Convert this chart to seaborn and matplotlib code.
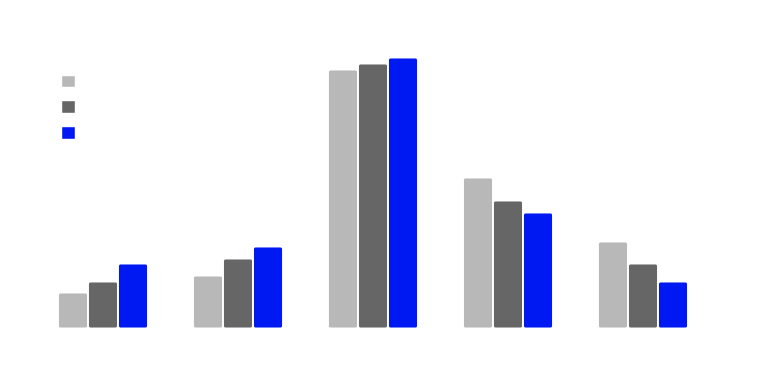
import matplotlib
matplotlib.use("Agg")
import matplotlib.pyplot as plt
from matplotlib.patches import FancyBboxPatch, Patch
import seaborn as sns
import pandas as pd

categories = ["A", "B", "C", "D", "E"]
series = ["S1", "S2", "S3"]
s1 = [36, 53, 259, 151, 87]
s2 = [47, 70, 265, 128, 65]
s3 = [65, 82, 271, 116, 47]
colors = ["#b8b8b8", "#666666", "#0019f2"]

rows = []
for name, vals in zip(series, [s1, s2, s3]):
    for c, v in zip(categories, vals):
        rows.append({"cat": c, "series": name, "value": v})
df = pd.DataFrame(rows)

W, H = 768, 381
fig = plt.figure(figsize=(W / 100, H / 100), dpi=100)
ax_left, ax_right = 35.5, 710.5
ax_top, ax_bot = 31.5, 328.5
ax = fig.add_axes([ax_left / W, (H - ax_bot) / H, (ax_right - ax_left) / W, (ax_bot - ax_top) / H])

sns.barplot(data=df, x="cat", y="value", hue="series", palette=colors,
            saturation=1, width=0.667, edgecolor="white", linewidth=1.4,
            ax=ax, legend=False)
ymax = ax_bot - ax_top
ax.set_xlim(-0.5, len(categories) - 0.5)
ax.set_ylim(0, ymax)

# rounded corners
xpp = 1 / 135.0
ypp = ymax / (ax_bot - ax_top)
for p in list(ax.patches):
    x, y = p.get_x(), p.get_y()
    w, h = p.get_width(), p.get_height()
    fb = FancyBboxPatch((x, y), w, h,
                        boxstyle=f"round,pad=0,rounding_size={2.5 * xpp}",
                        mutation_aspect=ypp / xpp,
                        facecolor=p.get_facecolor(), edgecolor="white",
                        linewidth=1.4)
    ax.add_patch(fb)
    p.remove()

ax.axis("off")

handles = [Patch(facecolor=c, edgecolor="white", linewidth=0.3) for c in colors]
fs = 13 * 72 / 100
leg = fig.legend(handles, ["", "", ""], loc="upper left",
                 bbox_to_anchor=(61.5 / W, 1 - 75.5 / H), frameon=False,
                 handlelength=1.0, handleheight=1.0, handletextpad=0,
                 borderpad=0, borderaxespad=0, labelspacing=0.96, fontsize=fs)

fig.savefig("out.png", dpi=100)
